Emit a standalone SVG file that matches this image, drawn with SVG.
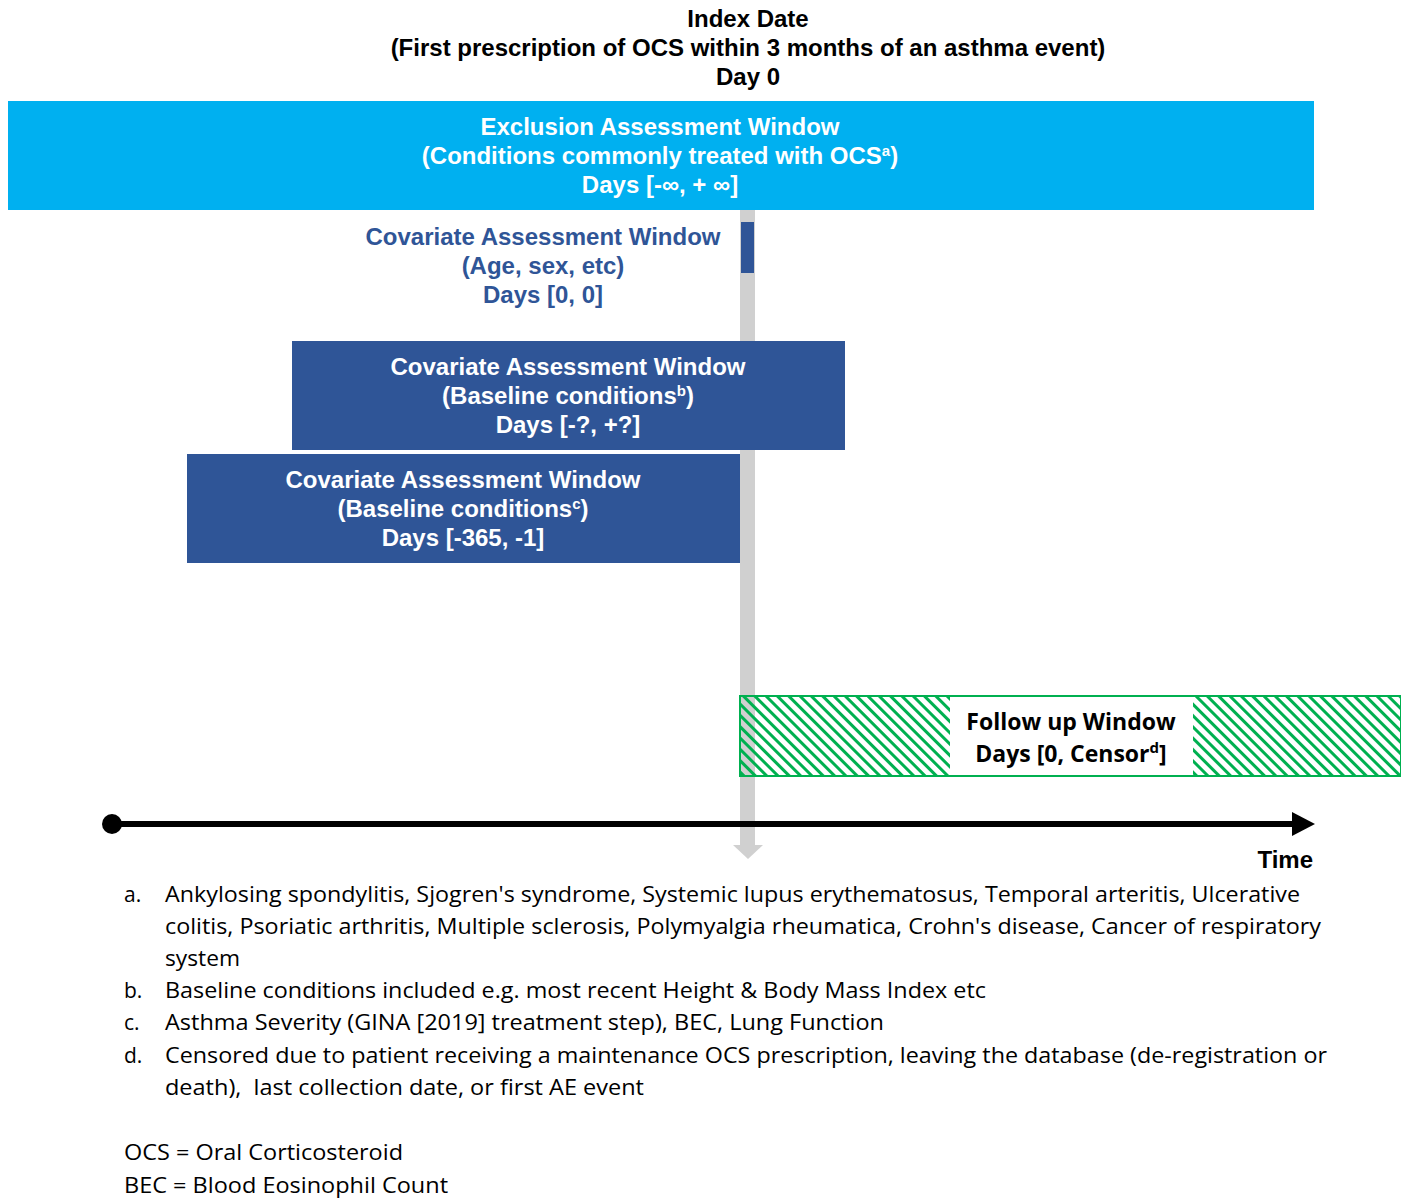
<svg xmlns="http://www.w3.org/2000/svg" width="1401" height="1199" viewBox="0 0 1401 1199">
<style>
.hd{font-family:"Liberation Sans",Arial,sans-serif;font-weight:bold;font-size:24px;fill:#000;text-anchor:middle}
.wt{font-family:"Liberation Sans",Arial,sans-serif;font-weight:bold;font-size:24px;fill:#fff;text-anchor:middle}
.bt{font-family:"Liberation Sans",Arial,sans-serif;font-weight:bold;font-size:24px;fill:#2f5597;text-anchor:middle}
.fu{font-family:"Open Sans","Noto Sans",sans-serif;font-weight:bold;font-size:23px;fill:#000;text-anchor:middle}
.fn{font-family:"Open Sans","Noto Sans",sans-serif;font-size:21px;fill:#000;white-space:pre}
.sup{font-size:15px}
</style>
<defs>
<pattern id="hatch" patternUnits="userSpaceOnUse" width="8" height="8" patternTransform="rotate(-45)">
<rect x="0" y="0" width="3" height="8" fill="#00b050"/>
</pattern>
</defs>
<g id="index-date">
<text class="hd" x="748" y="27">Index Date</text>
<text class="hd" x="748" y="56">(First prescription of OCS within 3 months of an asthma event)</text>
<text class="hd" x="748" y="85">Day 0</text>
</g>
<g id="connectors">
<rect x="740" y="210" width="15" height="636" fill="#d0d0d0"/>
<polygon points="733,845 763,845 748,859" fill="#d0d0d0"/>
</g>
<g id="exclusion">
<rect x="8" y="101" width="1306" height="109" fill="#00b0f0"/>
<text class="wt" x="660" y="135">Exclusion Assessment Window</text>
<text class="wt" x="660" y="164">(Conditions commonly treated with OCS<tspan class="sup" dy="-8">a</tspan><tspan dy="8">)</tspan></text>
<text class="wt" x="660" y="193">Days [-∞, + ∞]</text>
</g>
<g id="covariate-day0">
<rect x="741" y="222" width="13" height="51" fill="#2f5597"/>
<text class="bt" x="543" y="245">Covariate Assessment Window</text>
<text class="bt" x="543" y="274">(Age, sex, etc)</text>
<text class="bt" x="543" y="303">Days [0, 0]</text>
</g>
<g id="covariate-b">
<rect x="292" y="341" width="553" height="109" fill="#2f5597"/>
<text class="wt" x="568" y="375">Covariate Assessment Window</text>
<text class="wt" x="568" y="404">(Baseline conditions<tspan class="sup" dy="-8">b</tspan><tspan dy="8">)</tspan></text>
<text class="wt" x="568" y="433">Days [-?, +?]</text>
</g>
<g id="covariate-c">
<rect x="187" y="454" width="553" height="109" fill="#2f5597"/>
<text class="wt" x="463" y="488">Covariate Assessment Window</text>
<text class="wt" x="463" y="517">(Baseline conditions<tspan class="sup" dy="-8">c</tspan><tspan dy="8">)</tspan></text>
<text class="wt" x="463" y="546">Days [-365, -1]</text>
</g>
<g id="follow-up">
<rect x="740" y="696" width="661" height="80" fill="url(#hatch)" stroke="#00b050" stroke-width="2"/>
<rect x="950" y="697" width="243" height="78" fill="#fff"/>
<text class="fu" x="1071" y="730">Follow up Window</text>
<text class="fu" x="1071" y="762">Days [0, Censor<tspan class="sup" dy="-9">d</tspan><tspan dy="9">]</tspan></text>
</g>
<g id="time-axis">
<line x1="112" y1="824" x2="1295" y2="824" stroke="#000" stroke-width="6"/>
<circle cx="112" cy="824" r="10" fill="#000"/>
<polygon points="1292,812 1315,824 1292,836" fill="#000"/>
<text class="hd" x="1313" y="868" style="text-anchor:end">Time</text>
</g>
<g id="footnotes">
<text class="fn" x="124" y="902">a.</text>
<text class="fn" x="165" y="902" textLength="1135" lengthAdjust="spacingAndGlyphs">Ankylosing spondylitis, Sjogren's syndrome, Systemic lupus erythematosus, Temporal arteritis, Ulcerative</text>
<text class="fn" x="165" y="934" textLength="1156" lengthAdjust="spacingAndGlyphs">colitis, Psoriatic arthritis, Multiple sclerosis, Polymyalgia rheumatica, Crohn's disease, Cancer of respiratory</text>
<text class="fn" x="165" y="966" textLength="75" lengthAdjust="spacingAndGlyphs">system</text>
<text class="fn" x="124" y="998">b.</text>
<text class="fn" x="165" y="998" textLength="821" lengthAdjust="spacingAndGlyphs">Baseline conditions included e.g. most recent Height &amp; Body Mass Index etc</text>
<text class="fn" x="124" y="1030">c.</text>
<text class="fn" x="165" y="1030" textLength="719" lengthAdjust="spacingAndGlyphs">Asthma Severity (GINA [2019] treatment step), BEC, Lung Function</text>
<text class="fn" x="124" y="1063">d.</text>
<text class="fn" x="165" y="1063" textLength="1162" lengthAdjust="spacingAndGlyphs">Censored due to patient receiving a maintenance OCS prescription, leaving the database (de-registration or</text>
<text class="fn" x="165" y="1095" textLength="479" lengthAdjust="spacingAndGlyphs">death),  last collection date, or first AE event</text>
<text class="fn" x="124" y="1160" textLength="279" lengthAdjust="spacingAndGlyphs">OCS = Oral Corticosteroid</text>
<text class="fn" x="124" y="1193" textLength="324" lengthAdjust="spacingAndGlyphs">BEC = Blood Eosinophil Count</text>
</g>
</svg>
